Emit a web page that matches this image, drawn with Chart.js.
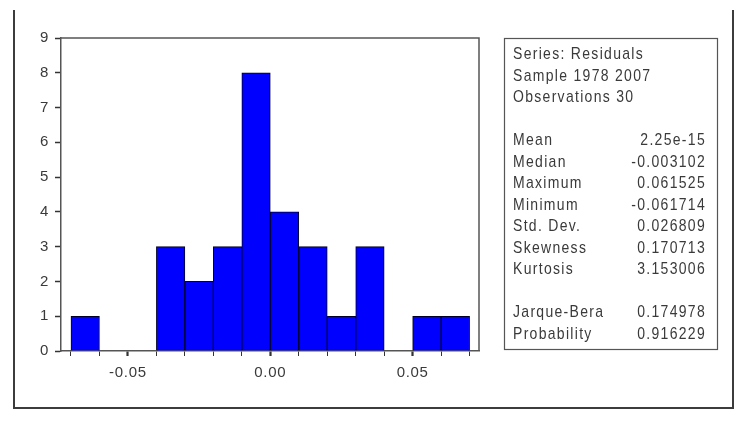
<!DOCTYPE html>
<html lang="en">
<head>
    <meta charset="UTF-8">
    <title>Histogram - Residuals</title>
    <script src="https://cdn.jsdelivr.net/npm/chart.js"></script>
    <style>
        html, body {
            margin: 0;
            padding: 0;
            background: #ffffff;
        }
        canvas {
            display: block;
        }
    </style>
</head>
<body>
    <canvas id="histChart" width="750" height="425"></canvas>

    <script>
        // histogram bins (centres) and counts
        const binCenters = [-0.065, -0.055, -0.045, -0.035, -0.025, -0.015, -0.005,
                            0.005, 0.015, 0.025, 0.035, 0.045, 0.055, 0.065];
        const counts = [1, 0, 0, 3, 2, 3, 8, 4, 3, 1, 3, 0, 1, 1];

        const xLabelTicks = [-0.05, 0.00, 0.05];
        const yTicks = [0, 1, 2, 3, 4, 5, 6, 7, 8, 9];

        // statistics panel
        const headerLines = ['Series: Residuals', 'Sample 1978 2007', 'Observations 30'];
        const statNames = ['Mean', 'Median', 'Maximum', 'Minimum', 'Std. Dev.', 'Skewness', 'Kurtosis'];
        const statValues = ['2.25e-15', '-0.003102', '0.061525', '-0.061714', '0.026809', '0.170713', '3.153006'];
        const testNames = ['Jarque-Bera', 'Probability'];
        const testValues = ['0.174978', '0.916229'];

        const textColor = '#3a3a3a';
        const fontFamily = '"Liberation Sans", Arial, sans-serif';

        function isLabelTick(v) {
            return xLabelTicks.some(t => Math.abs(t - v) < 1e-9);
        }

        const framePlugin = {
            id: 'frame',
            beforeDraw(chart) {
                chart.ctx.letterSpacing = '0.7px';
            },
            afterDraw(chart) {
                const ctx = chart.ctx;
                const a = chart.chartArea;
                ctx.save();

                // plot box top / right
                ctx.strokeStyle = '#555';
                ctx.lineWidth = 1.5;
                ctx.beginPath();
                ctx.moveTo(a.left, a.top);
                ctx.lineTo(a.right, a.top);
                ctx.lineTo(a.right, a.bottom);
                ctx.stroke();

                // outer frame (open at the top)
                ctx.strokeStyle = '#3c3c3c';
                ctx.lineWidth = 2;
                ctx.beginPath();
                ctx.moveTo(14, 10);
                ctx.lineTo(14, 408);
                ctx.lineTo(733, 408);
                ctx.lineTo(733, 10);
                ctx.stroke();

                // stats box
                ctx.strokeStyle = '#555';
                ctx.lineWidth = 1.2;
                ctx.strokeRect(504.5, 38.5, 213, 311);

                ctx.fillStyle = textColor;
                ctx.font = '14px ' + fontFamily;
                ctx.letterSpacing = '1.3px';
                ctx.textBaseline = 'middle';
                const sy = 1.15;
                ctx.scale(1, sy);
                const rowY = i => (55 + 21.5 * i) / sy;
                const left = 513, right = 706;

                headerLines.forEach((t, i) => {
                    ctx.textAlign = 'left';
                    ctx.fillText(t, left, rowY(i));
                });
                statNames.forEach((t, i) => {
                    ctx.textAlign = 'left';
                    ctx.fillText(t, left, rowY(4 + i));
                    ctx.textAlign = 'right';
                    ctx.fillText(statValues[i], right, rowY(4 + i));
                });
                testNames.forEach((t, i) => {
                    ctx.textAlign = 'left';
                    ctx.fillText(t, left, rowY(12 + i));
                    ctx.textAlign = 'right';
                    ctx.fillText(testValues[i], right, rowY(12 + i));
                });
                ctx.restore();
            }
        };

        new Chart(document.getElementById('histChart'), {
            type: 'bar',
            data: {
                datasets: [{
                    data: binCenters.map((x, i) => ({ x: x, y: counts[i] })),
                    backgroundColor: '#0000ff',
                    borderColor: '#00002a',
                    borderWidth: 1,
                    borderSkipped: 'bottom',
                    categoryPercentage: 1,
                    barPercentage: 1
                }]
            },
            options: {
                responsive: false,
                animation: false,
                layout: { padding: { top: 38, right: 271, left: 0, bottom: 0 } },
                plugins: {
                    legend: { display: false },
                    tooltip: { enabled: false }
                },
                scales: {
                    x: {
                        type: 'linear',
                        min: -0.0735,
                        max: 0.0733,
                        offset: false,
                        afterFit: s => { s.height = 74; },
                        border: { display: true, color: '#555', width: 1.5 },
                        grid: {
                            offset: false,
                            drawOnChartArea: false,
                            tickLength: 5,
                            tickColor: '#333',
                            tickWidth: c => isLabelTick(c.tick.value) ? 2.2 : 1
                        },
                        ticks: {
                            stepSize: 0.01,
                            includeBounds: false,
                            autoSkip: false,
                            maxRotation: 0,
                            padding: 8,
                            color: textColor,
                            font: { family: fontFamily, size: 15 },
                            callback: v => isLabelTick(v) ? v.toFixed(2) : ''
                        }
                    },
                    y: {
                        min: yTicks[0],
                        max: yTicks[yTicks.length - 1],
                        afterFit: s => { s.width = 61; },
                        border: { display: true, color: '#555', width: 1.5 },
                        grid: {
                            drawOnChartArea: false,
                            tickLength: 6,
                            tickColor: '#333',
                            tickWidth: 1.5
                        },
                        ticks: {
                            stepSize: 1,
                            padding: 6,
                            color: textColor,
                            font: { family: fontFamily, size: 15 }
                        }
                    }
                }
            },
            plugins: [framePlugin]
        });
    </script>
</body>
</html>
